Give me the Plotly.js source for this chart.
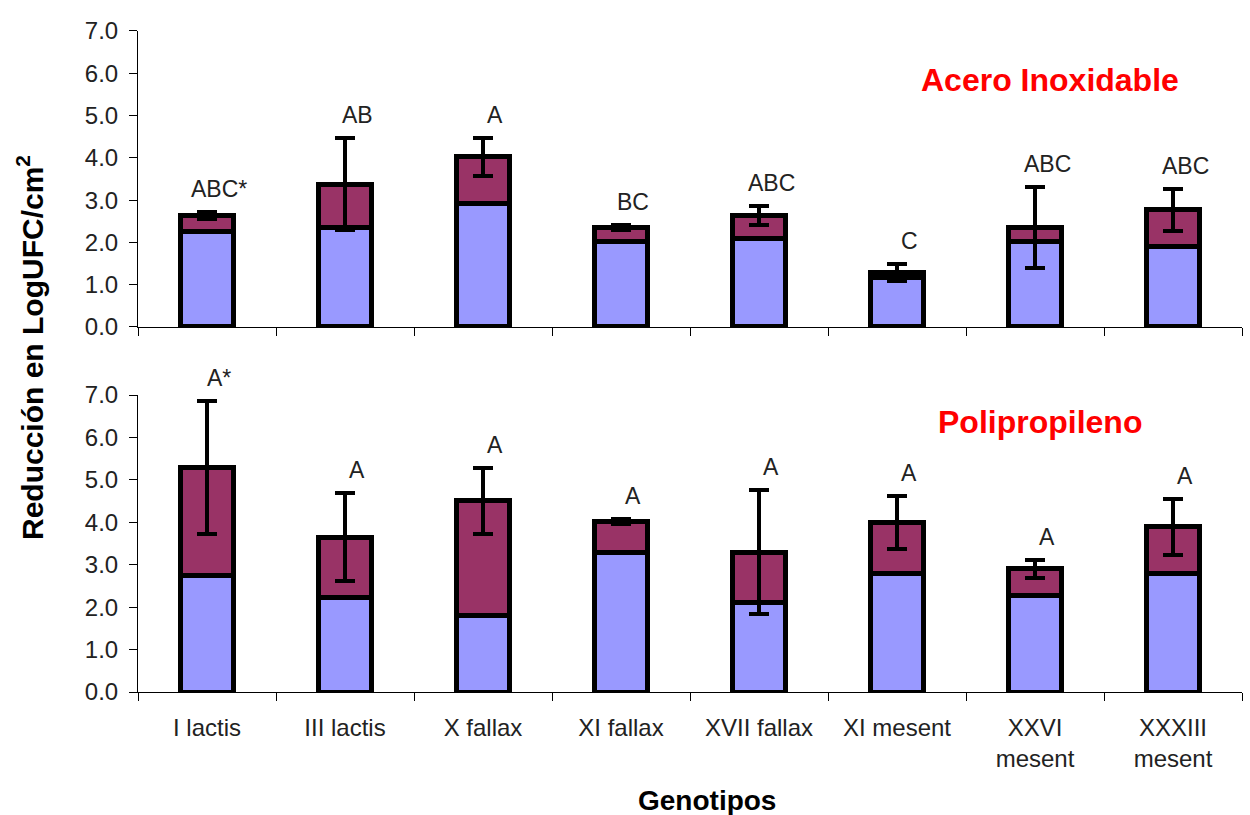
<!DOCTYPE html>
<html>
<head>
<meta charset="utf-8">
<script src="https://cdn.plot.ly/plotly-3.0.1.min.js"></script>
<style>html,body{margin:0;padding:0;background:#fff;}#chart{width:1250px;height:815px;}</style>
</head>
<body>
<div id="chart"></div>
<script>
// Categories and tick labels
const categories = ["I lactis", "III lactis", "X fallax", "XI fallax", "XVII fallax", "XI mesent", "XXVI mesent", "XXXIII mesent"];
const tickLabels = ["I lactis", "III lactis", "X fallax", "XI fallax", "XVII fallax", "XI mesent", "XXVI<br>mesent", "XXXIII<br>mesent"];

// Acero Inoxidable (top panel)
const aceroBlue  = [2.25, 2.36, 2.93, 2.02, 2.10, 1.18, 2.02, 1.90];
const aceroTotal = [2.63, 3.38, 4.03, 2.35, 2.63, 1.28, 2.35, 2.77];
const aceroErr   = [0.08, 1.08, 0.45, 0.06, 0.22, 0.20, 0.95, 0.50];
const aceroLetters = ["ABC*", "AB", "A", "BC", "ABC", "C", "ABC", "ABC"];

// Polipropileno (bottom panel)
const poliBlue  = [2.74, 2.23, 1.80, 3.29, 2.10, 2.80, 2.27, 2.80];
const poliTotal = [5.30, 3.65, 4.51, 4.02, 3.29, 4.00, 2.90, 3.90];
const poliErr   = [1.57, 1.03, 0.78, 0.06, 1.46, 0.63, 0.21, 0.66];
const poliLetters = ["A*", "A", "A", "A", "A", "A", "A", "A"];

const BLUE = "#9999FF", MAROON = "#993366";
const FONT = "Liberation Sans, Arial, sans-serif";
const outline = {color: "#000", width: 5};

function diff(a, b) { return a.map((v, i) => +(v - b[i]).toFixed(3)); }

const traces = [
  {type: "bar", x: categories, y: aceroBlue, xaxis: "x2", yaxis: "y2",
   marker: {color: BLUE, line: outline}},
  {type: "bar", x: categories, y: diff(aceroTotal, aceroBlue), xaxis: "x2", yaxis: "y2",
   marker: {color: MAROON, line: outline},
   error_y: {type: "data", array: aceroErr, color: "#000", thickness: 4, width: 10}},
  {type: "bar", x: categories, y: poliBlue, xaxis: "x", yaxis: "y",
   marker: {color: BLUE, line: outline}},
  {type: "bar", x: categories, y: diff(poliTotal, poliBlue), xaxis: "x", yaxis: "y",
   marker: {color: MAROON, line: outline},
   error_y: {type: "data", array: poliErr, color: "#000", thickness: 4, width: 10}}
];

const xBase = {
  domain: [0.1104, 0.9936], type: "category",
  showline: true, linecolor: "#000", linewidth: 1,
  ticks: "outside", tickson: "boundaries", ticklen: 8, tickcolor: "#000",
  showgrid: false, zeroline: false,
  tickmode: "array", tickvals: categories, ticktext: tickLabels,
  ticklabelstandoff: 14,
  tickfont: {family: FONT, size: 24, color: "#222"}
};
const yBase = {
  range: [0, 7], dtick: 1, tickformat: ".1f",
  showline: true, linecolor: "#000", linewidth: 1,
  ticks: "outside", ticklen: 8, tickcolor: "#000",
  showgrid: false, zeroline: false, ticklabelstandoff: 6,
  tickfont: {family: FONT, size: 24, color: "#222"}
};

const annotations = [];
function addLetters(letters, total, err, xref, yref) {
  letters.forEach((t, i) => {
    annotations.push({
      text: t, x: categories[i], y: total[i] + err[i], xref: xref, yref: yref,
      yanchor: "bottom", xanchor: "center", showarrow: false, yshift: 8, xshift: 12,
      font: {family: FONT, size: 23, color: "#222"}
    });
  });
}
addLetters(aceroLetters, aceroTotal, aceroErr, "x2", "y2");
addLetters(poliLetters, poliTotal, poliErr, "x", "y");

annotations.push(
  {text: "<b>Acero Inoxidable</b>", xref: "paper", yref: "paper", x: 0.84, y: 0.902,
   xanchor: "center", yanchor: "middle",
   showarrow: false, font: {family: FONT, size: 32, color: "#FF0000"}},
  {text: "<b>Polipropileno</b>", xref: "paper", yref: "paper", x: 0.832, y: 0.482,
   xanchor: "center", yanchor: "middle",
   showarrow: false, font: {family: FONT, size: 32, color: "#FF0000"}},
  {text: "<b>Reducción en LogUFC/cm<sup>2</sup></b>", xref: "paper", yref: "paper", x: 0.024, y: 0.573,
   xanchor: "center", yanchor: "middle",
   textangle: -90, showarrow: false, font: {family: FONT, size: 30, color: "#000"}},
  {text: "<b>Genotipos</b>", xref: "paper", yref: "paper", x: 0.566, y: 0.018,
   xanchor: "center", yanchor: "middle",
   showarrow: false, font: {family: FONT, size: 28, color: "#000"}}
);

const layout = {
  width: 1250, height: 815,
  margin: {l: 0, r: 0, t: 0, b: 0},
  paper_bgcolor: "#fff", plot_bgcolor: "#fff",
  barmode: "stack", bargap: 0.616,
  showlegend: false,
  xaxis: Object.assign({}, xBase, {anchor: "y"}),
  yaxis: Object.assign({}, yBase, {domain: [0.1509, 0.5153], anchor: "x"}),
  xaxis2: Object.assign({}, xBase, {anchor: "y2", showticklabels: false, matches: "x"}),
  yaxis2: Object.assign({}, yBase, {domain: [0.5988, 0.962], anchor: "x2"}),
  annotations: annotations
};

Plotly.newPlot("chart", traces, layout, {displayModeBar: false, staticPlot: true});
</script>
</body>
</html>
